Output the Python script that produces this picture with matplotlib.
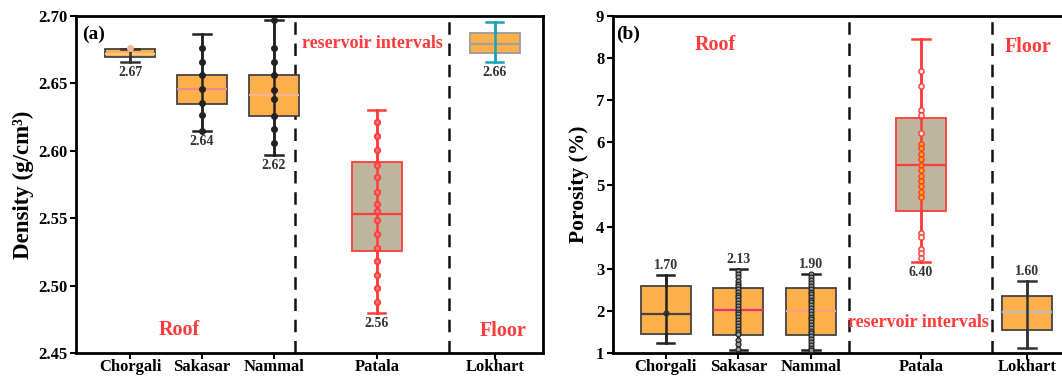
import matplotlib.pyplot as plt

plt.rcParams['font.family'] = ['Liberation Serif', 'DejaVu Serif']
plt.rcParams['font.weight'] = 'bold'

ORANGE = '#FDB04A'
KHAKI = '#BDB59C'
RED = '#FF3B3B'
DARK = '#333333'

formations = ["Chorgali", "Sakasar", "Nammal", "Patala", "Lokhart"]

# ---- (a) bulk density, g/cm3 ----
dens_pos = [1.0, 2.0, 3.0, 4.43, 6.07]
dens_q1 = [2.6697, 2.635, 2.626, 2.526, 2.6727]
dens_med = [2.672, 2.6461, 2.6412, 2.5533, 2.6793]
dens_q3 = [2.6756, 2.6563, 2.656, 2.5917, 2.6875]
dens_lo = [2.6657, 2.615, 2.5969, 2.480, 2.666]
dens_hi = [2.6756, 2.6863, 2.6972, 2.630, 2.6959]
dens_label = ["2.67", "2.64", "2.62", "2.56", "2.66"]
dens_chorgali_pts = [2.6764]
dens_sakasar_pts = [2.6764, 2.666, 2.656, 2.6459, 2.6357, 2.6268, 2.615]
dens_nammal_pts = [2.6972, 2.6764, 2.666, 2.656, 2.6449, 2.6385, 2.626, 2.6162, 2.6058]
dens_patala_pts = [2.6214, 2.611, 2.6006, 2.5894, 2.5805, 2.5696, 2.5605, 2.5555,
                   2.5486, 2.5384, 2.528, 2.5184, 2.508, 2.4983, 2.4879]

# ---- (b) porosity, % ----
por_pos = [1.0, 2.0, 3.0, 4.52, 5.98]
por_q1 = [1.443, 1.427, 1.43, 4.37, 1.546]
por_med = [1.926, 2.02, 2.0, 5.456, 1.98]
por_q3 = [2.60, 2.55, 2.55, 6.57, 2.353]
por_lo = [1.23, 1.08, 1.07, 3.167, 1.126]
por_hi = [2.852, 3.0, 2.875, 8.454, 2.71]
por_label = ["1.70", "2.13", "1.90", "6.40", "1.60"]
por_chorgali_pts = [1.96]
por_sakasar_pts = [2.95, 2.88, 2.80, 2.72, 2.64, 2.58, 2.52, 2.45, 2.38, 2.32, 2.25, 2.18,
                   2.12, 2.05, 1.98, 1.92, 1.85, 1.78, 1.72, 1.65, 1.58, 1.50, 1.44,
                   1.30, 1.22, 1.10]
por_nammal_pts = [2.88, 2.80, 2.73, 2.66, 2.59, 2.52, 2.46, 2.40, 2.33, 2.26, 2.20, 2.13,
                  2.06, 2.00, 1.93, 1.86, 1.80, 1.73, 1.66, 1.60, 1.53, 1.47, 1.40, 1.33,
                  1.27, 1.20, 1.13, 1.08]
por_patala_pts = [7.694, 7.338, 6.769, 6.650, 6.230, 5.961, 5.859, 5.724, 5.598, 5.463,
                  5.344, 5.209, 5.083, 4.964, 4.829, 4.696, 3.842, 3.747, 3.462, 3.367,
                  3.255]

# per-box styling: fill, edge, whisker colour, median colour
styles_a = [
    (ORANGE, '#444444', '#333333', '#FFC488'),
    (ORANGE, '#444444', '#222222', '#F08A8A'),
    (ORANGE, '#444444', '#222222', '#F5B39A'),
    (KHAKI, RED, RED, RED),
    (ORANGE, '#9A9A9A', '#1AA3B8', '#A0A0A0'),
]
styles_b = [
    (ORANGE, '#444444', '#222222', '#444444'),
    (ORANGE, '#444444', '#222222', '#E8307A'),
    (ORANGE, '#444444', '#222222', '#F5A08A'),
    (KHAKI, RED, RED, RED),
    (ORANGE, '#444444', '#333333', '#BBBBBB'),
]


def draw_boxes(ax, pos, q1, med, q3, lo, hi, styles):
    for i in range(len(pos)):
        fill, edge, wc, mc = styles[i]
        st = [dict(q1=q1[i], med=med[i], q3=q3[i], whislo=lo[i], whishi=hi[i], fliers=[])]
        ax.bxp(st, positions=[pos[i]], widths=0.69, patch_artist=True, manage_ticks=False,
               showfliers=False, capwidths=0.24, zorder=2,
               boxprops=dict(facecolor=fill, edgecolor=edge, linewidth=1.3),
               whiskerprops=dict(color=wc, linewidth=1.8),
               capprops=dict(color=wc, linewidth=1.8),
               medianprops=dict(color=mc, linewidth=1.6))
        # whisker line runs through the box
        ax.plot([pos[i], pos[i]], [lo[i], hi[i]], color=wc, lw=1.8, zorder=3)


def style_axes(ax, pos, xlim, ylim, yticks, yfmt, ylabel):
    ax.set_xlim(*xlim)
    ax.set_ylim(*ylim)
    ax.set_xticks(pos)
    ax.set_xticklabels(formations)
    ax.set_yticks(yticks)
    ax.set_yticklabels([yfmt.format(v) for v in yticks])
    ax.tick_params(direction='out', length=4, width=1.5, labelsize=12, pad=2)
    ax.tick_params(axis='x', pad=0.5)
    for s in ax.spines.values():
        s.set_linewidth(2)
    ax.set_ylabel(ylabel, fontsize=15.5, fontweight='bold')


fig = plt.figure(figsize=(10.62, 3.78), dpi=100)
ax1 = fig.add_axes([0.0716, 0.0661, 0.4397, 0.8915])
ax2 = fig.add_axes([0.5769, 0.0661, 0.4250, 0.8915])

# ---- panel (a) ----
draw_boxes(ax1, dens_pos, dens_q1, dens_med, dens_q3, dens_lo, dens_hi, styles_a)
ax1.plot([dens_pos[0]] * len(dens_chorgali_pts), dens_chorgali_pts, 'o', ms=4,
         mfc='#F5B7A0', mec='#F5B7A0', zorder=4)
ax1.plot([dens_pos[1]] * len(dens_sakasar_pts), dens_sakasar_pts, 'o', ms=4,
         color='#222222', zorder=4)
ax1.plot([dens_pos[2]] * len(dens_nammal_pts), dens_nammal_pts, 'o', ms=4,
         color='#222222', zorder=4)
ax1.plot([dens_pos[3]] * len(dens_patala_pts), dens_patala_pts, 'o', ms=4,
         mfc='#FF7070', mec=RED, mew=1.2, zorder=4)
for x, lo, lab in zip(dens_pos, dens_lo, dens_label):
    ax1.annotate(lab, (x, lo), xytext=(0, -3), textcoords='offset points',
                 ha='center', va='top', fontsize=10, color=DARK)

for xd in [3.29, 5.44]:
    ax1.axvline(xd, color='#111111', lw=1.8, ls=(0, (5, 3.5)), zorder=1)

style_axes(ax1, dens_pos, (0.25, 6.74), (2.45, 2.70),
           [2.45, 2.50, 2.55, 2.60, 2.65, 2.70], "{:.2f}", "Density (g/cm³)")
ax1.yaxis.label.set_fontsize(16.5)
ax1.yaxis.labelpad = 3

ax1.text(0.012, 0.945, "(a)", transform=ax1.transAxes, fontsize=14,
         fontweight='bold', va='center', ha='left')
ax1.text(4.37, 0.917, "reservoir intervals", transform=ax1.get_xaxis_transform(),
         fontsize=13, fontweight='bold', color=RED, ha='center', va='center')
ax1.text(1.68, 0.068, "Roof", transform=ax1.get_xaxis_transform(),
         fontsize=14.5, fontweight='bold', color=RED, ha='center', va='center')
ax1.text(6.18, 0.066, "Floor", transform=ax1.get_xaxis_transform(),
         fontsize=14.5, fontweight='bold', color=RED, ha='center', va='center')

# ---- panel (b) ----
draw_boxes(ax2, por_pos, por_q1, por_med, por_q3, por_lo, por_hi, styles_b)
ax2.plot([por_pos[0]] * len(por_chorgali_pts), por_chorgali_pts, 'o', ms=3.5,
         mfc='none', mec='#333333', zorder=4)
ax2.plot([por_pos[1]] * len(por_sakasar_pts), por_sakasar_pts, 'o', ms=3.5,
         mfc='#9AA0A0', mec='#222222', mew=0.9, zorder=4)
ax2.plot([por_pos[2]] * len(por_nammal_pts), por_nammal_pts, 'o', ms=3.5,
         mfc='#9AA0A0', mec='#222222', mew=0.9, zorder=4)
inner = [v for v in por_patala_pts if por_q1[3] <= v <= 6.0]
outer = [v for v in por_patala_pts if v not in inner]
ax2.plot([por_pos[3]] * len(outer), outer, 'o', ms=3.8,
         mfc='#F5EDE5', mec=RED, mew=1.0, zorder=4)
ax2.plot([por_pos[3]] * len(inner), inner, 'o', ms=3.8,
         mfc='#FFA500', mec=RED, mew=1.0, zorder=4)
for i, (x, lab) in enumerate(zip(por_pos, por_label)):
    if i == 3:
        ax2.annotate(lab, (x, por_lo[i]), xytext=(0, -3), textcoords='offset points',
                     ha='center', va='top', fontsize=10, color=DARK)
    else:
        ax2.annotate(lab, (x, por_hi[i]), xytext=(0, 2), textcoords='offset points',
                     ha='center', va='bottom', fontsize=10, color=DARK)

for xd in [3.52, 5.50]:
    ax2.axvline(xd, color='#111111', lw=1.8, ls=(0, (5, 3.5)), zorder=1)

style_axes(ax2, por_pos, (0.268, 6.49), (1, 9), list(range(1, 10)), "{:d}",
           "Porosity (%)")
ax2.spines['right'].set_visible(False)
ax2.yaxis.labelpad = 5

ax2.text(0.008, 0.945, "(b)", transform=ax2.transAxes, fontsize=14,
         fontweight='bold', va='center', ha='left')
ax2.text(1.68, 0.914, "Roof", transform=ax2.get_xaxis_transform(),
         fontsize=14.5, fontweight='bold', color=RED, ha='center', va='center')
ax2.text(6.0, 0.907, "Floor", transform=ax2.get_xaxis_transform(),
         fontsize=14.5, fontweight='bold', color=RED, ha='center', va='center')
ax2.text(4.49, 0.0905, "reservoir intervals", transform=ax2.get_xaxis_transform(),
         fontsize=13, fontweight='bold', color=RED, ha='center', va='center')

fig.savefig("out.png", dpi=100)
